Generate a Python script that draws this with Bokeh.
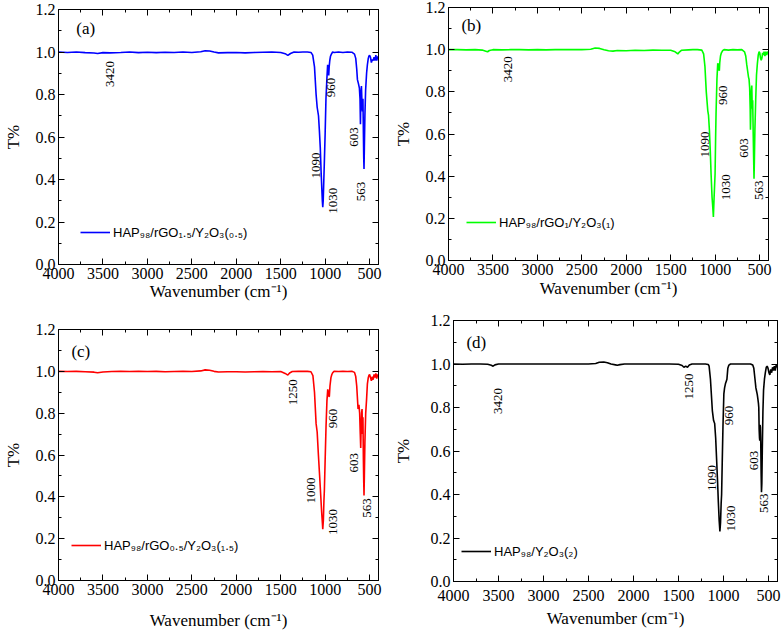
import math
from bokeh.plotting import figure
from bokeh.models import (Range1d, FixedTicker, NumeralTickFormatter, LinearAxis,
                          Legend, LegendItem, CustomLabelingPolicy)
from bokeh.layouts import column, row
from bokeh.embed import file_html
from bokeh.resources import INLINE
from bokeh.core.properties import value

# ---------------- data ----------------
x_ticks = [4000, 3500, 3000, 2500, 2000, 1500, 1000, 500]
x_minor = [3750, 3250, 2750, 2250, 1750, 1250, 750]
y_ticks = [0.0, 0.2, 0.4, 0.6, 0.8, 1.0, 1.2]
y_minor = [0.1, 0.3, 0.5, 0.7, 0.9, 1.1]

a_wn = [4000, 3900, 3800, 3700, 3600, 3560, 3500, 3420, 3300, 3200, 3100, 3000, 2900, 2800, 2700, 2600,
        2500, 2400, 2350, 2300, 2250, 2200, 2100, 2000, 1900, 1800, 1700, 1600, 1500, 1450, 1420, 1390,
        1350, 1300, 1250, 1200, 1160, 1140, 1120, 1102, 1090, 1075, 1065, 1055, 1046, 1038, 1032, 1027,
        1022, 1015, 1010, 1000, 991, 980, 972, 966, 960, 955, 948, 940, 930, 916, 900, 850, 800, 750,
        700, 670, 656, 645, 637, 625, 615, 608, 603, 598, 592, 586, 581, 575, 570, 566, 563, 559, 553,
        545, 534, 525, 515, 508, 500, 490, 480, 470, 460, 450, 440, 430, 420, 410, 400]
a_t = [1.0, 0.998, 1.0, 0.997, 0.995, 0.993, 0.997, 0.996, 0.998, 1.0, 0.997, 0.999, 0.997, 0.999, 0.998, 1.0,
       0.998, 1.001, 1.006, 1.005, 1.0, 0.996, 0.997, 0.998, 0.996, 0.998, 0.999, 1.0, 0.998, 0.992, 0.984, 0.993,
       1.0, 0.999, 1.0, 1.0, 0.998, 0.985, 0.93, 0.80, 0.74, 0.70, 0.63, 0.55, 0.44, 0.36, 0.30, 0.27,
       0.30, 0.40, 0.47, 0.62, 0.78, 0.88, 0.94, 0.92, 0.89, 0.93, 0.96, 0.98, 0.99, 1.0, 0.998, 1.0, 0.998, 1.0,
       0.999, 0.99, 0.97, 0.92, 0.87, 0.85, 0.83, 0.78, 0.66, 0.80, 0.84, 0.76, 0.72, 0.78, 0.62, 0.50, 0.45, 0.55, 0.70,
       0.82, 0.90, 0.94, 0.97, 0.98, 0.985, 0.975, 0.95, 0.965, 0.96, 0.975, 0.96, 0.985, 0.96, 0.975, 0.98]

b_wn = [4000, 3900, 3800, 3700, 3620, 3580, 3560, 3540, 3500, 3400, 3300, 3200, 3100, 3000, 2900, 2800,
        2700, 2600, 2500, 2400, 2350, 2300, 2250, 2200, 2150, 2100, 2000, 1900, 1800, 1700, 1600, 1500,
        1450, 1420, 1400, 1380, 1300, 1250, 1200, 1150, 1130, 1115, 1100, 1083, 1075, 1065, 1055, 1046,
        1035, 1028, 1020, 1012, 1006, 1001, 995, 990, 980, 971, 965, 958, 953, 948, 940, 930, 916, 900,
        850, 800, 750, 700, 670, 656, 645, 635, 625, 619, 612, 606, 603, 600, 594, 588, 583, 578, 572,
        567, 563, 559, 553, 544, 535, 525, 515, 506, 498, 490, 482, 474, 466, 458, 450, 440, 430, 420, 410, 400]
b_t = [1.0, 1.0, 0.999, 1.0, 0.998, 0.993, 0.99, 0.996, 1.0, 0.999, 1.0, 1.0, 0.999, 1.0, 0.999, 1.0,
       1.0, 1.0, 1.0, 1.002, 1.008, 1.006, 1.0, 0.995, 0.993, 0.996, 0.995, 0.997, 0.996, 0.998, 0.997, 0.997,
       0.99, 0.98, 0.99, 0.997, 0.999, 1.0, 1.0, 0.998, 0.98, 0.92, 0.80, 0.71, 0.69, 0.62, 0.52, 0.41,
       0.30, 0.26, 0.206, 0.30, 0.36, 0.41, 0.58, 0.70, 0.86, 0.935, 0.93, 0.905, 0.90, 0.94, 0.97, 0.985, 0.995, 1.0,
       0.998, 1.0, 0.999, 1.0, 0.99, 0.97, 0.93, 0.90, 0.87, 0.86, 0.82, 0.72, 0.62, 0.67, 0.80, 0.83, 0.72, 0.76, 0.60,
       0.48, 0.388, 0.47, 0.62, 0.76, 0.88, 0.935, 0.975, 0.99, 0.985, 0.96, 0.95, 0.96, 0.985, 0.975, 0.99, 0.97, 0.99, 0.975, 0.99, 0.985]

c_wn = [4000, 3900, 3800, 3700, 3600, 3560, 3500, 3400, 3300, 3200, 3100, 3000, 2900, 2800, 2700, 2600,
        2500, 2400, 2350, 2300, 2250, 2200, 2100, 2000, 1900, 1800, 1700, 1600, 1500, 1450, 1420, 1400,
        1370, 1300, 1250, 1200, 1160, 1138, 1120, 1102, 1090, 1076, 1065, 1053, 1040, 1032, 1027, 1020,
        1014, 1009, 1000, 990, 980, 971, 964, 958, 953, 946, 935, 925, 916, 900, 850, 800, 750, 700,
        670, 656, 645, 630, 620, 612, 605, 600, 596, 590, 585, 580, 575, 570, 566, 563, 559, 553, 544,
        534, 525, 515, 508, 500, 490, 480, 470, 460, 450, 440, 430, 420, 410, 400]
c_t = [1.0, 0.999, 1.0, 0.998, 0.996, 0.993, 0.997, 0.999, 1.0, 0.999, 1.0, 0.999, 1.0, 0.998, 0.999, 1.0,
       0.999, 1.002, 1.007, 1.005, 1.0, 0.997, 0.998, 0.998, 0.997, 0.998, 0.999, 0.998, 0.999, 0.99, 0.982, 0.992,
       0.999, 1.0, 1.0, 1.0, 0.998, 0.98, 0.90, 0.75, 0.71, 0.60, 0.52, 0.43, 0.33, 0.28, 0.245, 0.29,
       0.38, 0.43, 0.58, 0.74, 0.86, 0.914, 0.90, 0.88, 0.88, 0.93, 0.97, 0.985, 0.993, 1.0, 0.999, 1.0, 0.999, 1.0,
       0.995, 0.975, 0.93, 0.82, 0.84, 0.80, 0.70, 0.633, 0.72, 0.80, 0.82, 0.70, 0.78, 0.58, 0.47, 0.406, 0.50, 0.66, 0.80,
       0.867, 0.94, 0.97, 0.98, 0.985, 0.97, 0.955, 0.975, 0.96, 0.985, 0.97, 0.99, 0.965, 0.985, 0.975]

d_wn = [4000, 3900, 3800, 3700, 3620, 3580, 3560, 3540, 3500, 3400, 3300, 3200, 3100, 3000, 2900, 2800,
        2700, 2600, 2500, 2420, 2380, 2330, 2290, 2250, 2200, 2180, 2150, 2100, 2000, 1900, 1800, 1700,
        1600, 1500, 1460, 1440, 1420, 1400, 1380, 1350, 1300, 1250, 1200, 1170, 1160, 1145, 1124, 1110,
        1098, 1087, 1076, 1066, 1058, 1048, 1040, 1033, 1026, 1021, 1014, 1006, 996, 988, 978, 970, 962,
        952, 940, 922, 900, 850, 800, 750, 700, 675, 663, 650, 640, 634, 625, 618, 612, 608, 604, 600,
        597, 594, 590, 586, 582, 578, 574, 569, 562, 555, 545, 535, 525, 515, 505, 495, 485, 475, 465,
        455, 445, 435, 425, 415, 400]
d_t = [1.0, 0.999, 1.0, 1.0, 0.999, 0.994, 0.99, 0.996, 1.0, 1.0, 1.0, 1.0, 1.0, 1.0, 1.0, 1.0,
       1.0, 1.0, 1.0, 1.002, 1.008, 1.009, 1.006, 1.0, 0.996, 0.994, 0.997, 1.0, 1.0, 1.0, 1.0, 1.0,
       1.0, 0.999, 0.993, 0.985, 0.99, 0.985, 0.995, 1.0, 1.0, 1.0, 1.0, 0.998, 0.99, 0.93, 0.786, 0.74,
       0.726, 0.66, 0.556, 0.46, 0.372, 0.28, 0.23, 0.27, 0.36, 0.40, 0.55, 0.71, 0.863, 0.89, 0.91, 0.92, 0.93,
       0.98, 0.995, 1.0, 1.0, 1.0, 1.0, 1.0, 1.0, 0.995, 0.98, 0.93, 0.89, 0.878, 0.86, 0.84, 0.82, 0.80, 0.70, 0.66,
       0.648, 0.72, 0.71, 0.64, 0.50, 0.41, 0.45, 0.60, 0.78, 0.88, 0.93, 0.96, 0.985, 0.99, 0.98, 0.96, 0.95, 0.975, 0.96,
       0.985, 0.97, 0.99, 0.97, 0.995, 0.985]

# peak annotations (text, wavenumber position, T position)
a_ann = ["3420", "1090", "1030", "960", "603", "563"]
a_ann_x = [3424, 1102, 915, 934, 674, 600]
a_ann_y = [0.896, 0.466, 0.30, 0.833, 0.60, 0.344]

b_ann = ["3420", "1090", "1030", "960", "603", "563"]
b_ann_x = [3331, 1120, 879, 915, 674, 507]
b_ann_y = [0.907, 0.55, 0.348, 0.784, 0.534, 0.333]

c_ann = ["1250", "1000", "1030", "960", "603", "563"]
c_ann_x = [1361, 1157, 915, 915, 674, 525]
c_ann_y = [0.90, 0.43, 0.28, 0.774, 0.563, 0.347]

d_ann = ["3420", "1250", "1090", "1030", "960", "603", "563"]
d_ann_x = [3502, 1383, 1124, 921, 940, 663, 553]
d_ann_y = [0.83, 0.897, 0.476, 0.29, 0.763, 0.556, 0.36]

panel_letters = ["(a)", "(b)", "(c)", "(d)"]
series_names = ["HAP₉₈/rGO₁.₅/Y₂O₃(₀.₅)", "HAP₉₈/rGO₁/Y₂O₃(₁)",
                "HAP₉₈/rGO₀.₅/Y₂O₃(₁.₅)", "HAP₉₈/Y₂O₃(₂)"]
series_colors = ["#0000ff", "#00ff00", "#ff0000", "#000000"]

x_label = "Wavenumber (cm⁻¹)"
y_label = "T%"

SERIF = "'Liberation Serif', 'Times New Roman', serif"
SANS = "'Liberation Sans', Arial, sans-serif"


def style_axis(ax, show_labels=True):
    ax.major_tick_in = 6
    ax.major_tick_out = 0
    ax.minor_tick_in = 3
    ax.minor_tick_out = 0
    ax.axis_line_color = "black"
    ax.major_tick_line_color = "black"
    ax.minor_tick_line_color = "black"
    if show_labels:
        ax.major_label_text_font = SERIF
        ax.major_label_text_font_size = "16px"
        ax.major_label_text_color = "black"
        ax.major_label_standoff = 3
        ax.axis_label_text_font = SERIF
        ax.axis_label_text_font_size = "17px"
        ax.axis_label_text_font_style = "normal"
        ax.axis_label_text_color = "black"
    else:
        ax.major_label_policy = CustomLabelingPolicy(code="for (const i of indices) indices.unset(i)")
        ax.major_label_text_font_size = "0px"
        ax.major_label_standoff = 0
        ax.axis_label_standoff = 0
        ax.axis_label = None


def panel(wn, t, color, name, letter, letter_x, letter_y, ann, ann_x, ann_y,
          width, height, bl, br, bt, bb, leg_x, leg_y, xstand, xlstand, ylstand):
    p = figure(width=width, height=height, x_range=Range1d(4000, 400), y_range=Range1d(0, 1.2),
               output_backend="svg", toolbar_location=None, frame_align=False,
               min_border_left=bl, min_border_right=br, min_border_top=bt, min_border_bottom=bb)
    p.xgrid.visible = False
    p.ygrid.visible = False
    p.outline_line_color = "black"
    p.background_fill_color = "white"
    p.border_fill_color = "white"

    p.xaxis[0].ticker = FixedTicker(ticks=x_ticks, minor_ticks=x_minor)
    p.yaxis[0].ticker = FixedTicker(ticks=y_ticks, minor_ticks=y_minor)
    p.yaxis[0].formatter = NumeralTickFormatter(format="0.0")
    p.xaxis[0].axis_label = x_label
    p.yaxis[0].axis_label = y_label
    style_axis(p.xaxis[0])
    style_axis(p.yaxis[0])
    p.xaxis[0].major_label_standoff = xstand
    p.xaxis[0].axis_label_standoff = xlstand
    p.yaxis[0].axis_label_standoff = ylstand

    top = LinearAxis(ticker=FixedTicker(ticks=x_ticks, minor_ticks=x_minor))
    right = LinearAxis(ticker=FixedTicker(ticks=y_ticks, minor_ticks=y_minor))
    style_axis(top, False)
    style_axis(right, False)
    p.add_layout(top, "above")
    p.add_layout(right, "right")

    r = p.line(wn, t, line_color=color, line_width=1.6)

    p.text(x=ann_x, y=ann_y, text=ann, angle=math.pi / 2, text_align="center",
           text_baseline="middle", text_font=value(SERIF), text_font_size="13px", text_color="black")
    p.text(x=[letter_x], y=[letter_y], text=[letter], text_align="left", text_baseline="middle",
           text_font=value(SERIF), text_font_size="17px", text_color="black")

    leg = Legend(items=[LegendItem(label=value(name), renderers=[r])], location=(leg_x, leg_y),
                 border_line_color=None, background_fill_alpha=0, padding=0, margin=0,
                 glyph_width=30, glyph_height=16, label_standoff=3, spacing=0,
                 label_text_font=SANS, label_text_font_size="13px", label_text_color="black")
    p.add_layout(leg)
    return p


pa = panel(a_wn, a_t, series_colors[0], series_names[0], panel_letters[0], 3800, 1.11,
           a_ann, a_ann_x, a_ann_y, 390, 310, 55, 12, 9, 46, 22, 24, 3, 0, 10)
pb = panel(b_wn, b_t, series_colors[1], series_names[1], panel_letters[1], 3855, 1.116,
           b_ann, b_ann_x, b_ann_y, 392, 310, 55, 14, 7, 50, 18, 30, 3, 1, 10)
pc = panel(c_wn, c_t, series_colors[2], series_names[2], panel_letters[2], 3855, 1.094,
           c_ann, c_ann_x, c_ann_y, 390, 322, 55, 12, 19, 47, 13, 27, 3, 13, 10)
pd = panel(d_wn, d_t, series_colors[3], series_names[3], panel_letters[3], 3856, 1.10,
           d_ann, d_ann_x, d_ann_y, 392, 322, 62, 5, 10, 51, 8, 22, 8, 5, 15)

layout = column(row(pa, pb), row(pc, pd))
open("out.html", "w").write(file_html(layout, INLINE))
